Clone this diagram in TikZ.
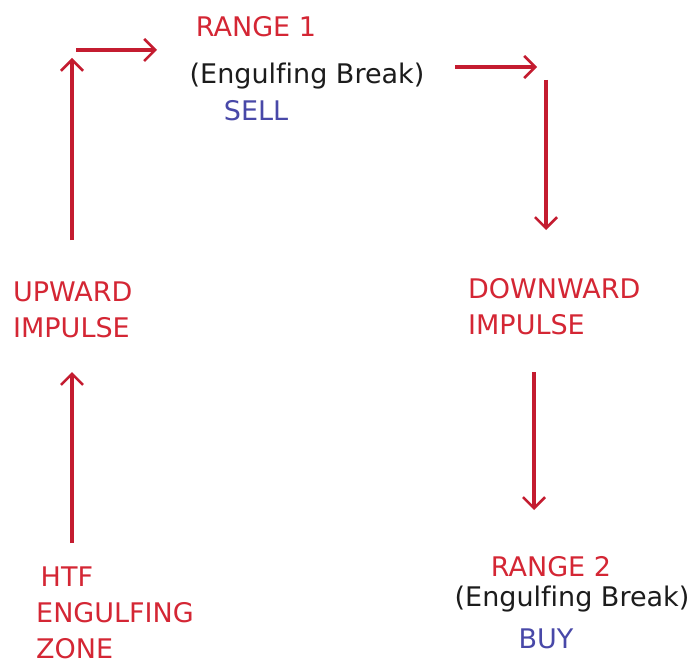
\documentclass[tikz,border=0pt]{standalone}
\usepackage{fontspec}
\setmainfont[Ligatures=NoCommon]{DejaVu Sans}
\usetikzlibrary{arrows.meta}
\definecolor{tred}{RGB}{212,38,52}
\definecolor{ared}{RGB}{196,28,48}
\definecolor{tblue}{RGB}{72,72,168}
\definecolor{tblack}{RGB}{28,28,28}
\tikzset{
  lbl/.style={inner sep=0pt, font=\fontsize{27}{36}\selectfont},
  redlbl/.style={lbl, text=tred},
  blklbl/.style={lbl, text=tblack},
  bluelbl/.style={lbl, text=tblue},
  flow/.style={draw=ared, line width=3.4pt, -{Straight Barb[length=11pt,width=22pt,line width=2.6pt]}}
}
\begin{document}
\begin{tikzpicture}[x=1pt,y=-1pt]
\useasboundingbox[fill=white] (0,0) rectangle (693,671);
% top
\node[redlbl, anchor=base] (r1) at (256,37) {RANGE 1};
\node[blklbl, anchor=base] (eb1) at (307,84) {(Engulfing Break)};
\node[bluelbl, anchor=base] (sell) at (256,121) {SELL};
% left
\node[redlbl, anchor=north west, align=left] (up) at (13,282) {UPWARD\\IMPULSE};
\node[redlbl, anchor=north west, align=left] (htf) at (36,567) {\,HTF\\ENGULFING\\ZONE};
% right
\node[redlbl, anchor=north west, align=left] (down) at (468,278) {DOWNWARD\\IMPULSE};
\node[redlbl, anchor=base] (r2) at (551,576) {RANGE 2};
\node[blklbl, anchor=base] (eb2) at (572,606) {(Engulfing Break)};
\node[bluelbl, anchor=base] (buy) at (546,648) {BUY};
% connector ends
\coordinate (a1s) at (72,543); \coordinate (a1e) at (72,372);
\coordinate (a2s) at (72,240); \coordinate (a2e) at (72,58);
\coordinate (a3s) at (76,50);  \coordinate (a3e) at (157,50);
\coordinate (a4s) at (455,67); \coordinate (a4e) at (537,67);
\coordinate (a5s) at (546,80); \coordinate (a5e) at (546,230);
\coordinate (a6s) at (534,372); \coordinate (a6e) at (534,510);
\draw[flow] (a1s) -- (a1e);
\draw[flow] (a2s) -- (a2e);
\draw[flow] (a3s) -- (a3e);
\draw[flow] (a4s) -- (a4e);
\draw[flow] (a5s) -- (a5e);
\draw[flow] (a6s) -- (a6e);
\end{tikzpicture}
\end{document}
